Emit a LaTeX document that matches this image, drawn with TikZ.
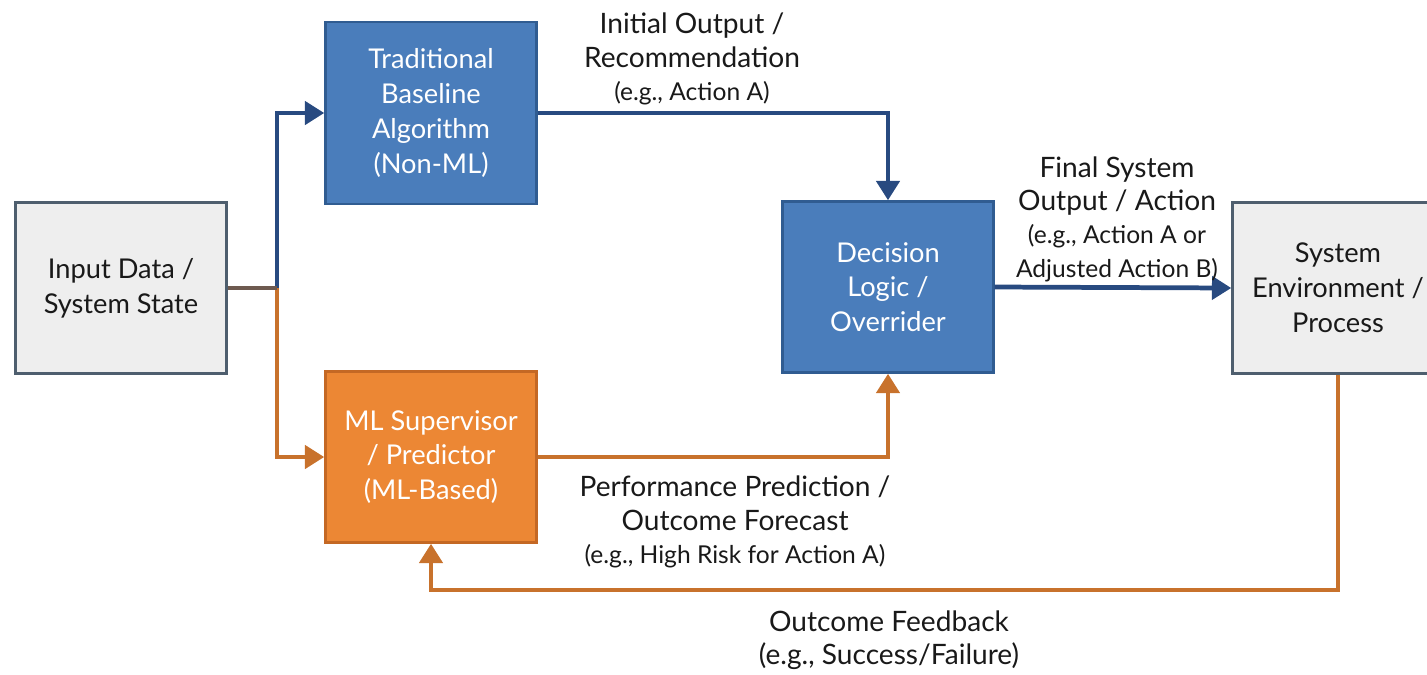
\documentclass[tikz,border=0pt]{standalone}
\usepackage{fontspec}
\setmainfont{Lato}
\usetikzlibrary{arrows.meta}
\definecolor{BoxBlue}{RGB}{74,125,187}
\definecolor{BoxBlueLine}{RGB}{48,92,145}
\definecolor{BoxOrange}{RGB}{236,135,52}
\definecolor{BoxOrangeLine}{RGB}{196,104,36}
\definecolor{BoxGray}{RGB}{238,238,238}
\definecolor{BoxGrayLine}{RGB}{78,94,110}
\definecolor{ArrBlue}{RGB}{40,74,128}
\definecolor{ArrOrange}{RGB}{200,114,44}
\definecolor{ArrMix}{RGB}{110,90,80}
\newcommand{\boxfont}{\fontsize{15.5pt}{19.8pt}\selectfont}
\newcommand{\lblfont}{\fontsize{16pt}{19pt}\selectfont}
\newcommand{\lblsmall}{\fontsize{14pt}{16.5pt}\selectfont}

\begin{document}
\begin{tikzpicture}[x=0.02cm,y=-0.02cm,
  blk/.style n args={3}{fill=#1,draw=#2,text=#3,line width=1.4pt,minimum width=4.22cm,minimum height=3.42cm,align=center,font=\boxfont,inner sep=2pt},
  lbl/.style={align=center,font=\lblfont,text=black!90,inner sep=0pt},
  bluearr/.style={ArrBlue,line width=2.7pt,-{Triangle[length=11pt,width=13pt]}},
  orarr/.style={ArrOrange,line width=2.7pt,-{Triangle[length=11pt,width=13pt]}}]
\useasboundingbox (0,0) rectangle (1427,674);
% boxes
\node[blk={BoxGray}{BoxGrayLine}{black!90}] (input) at (121,288) {Input Data /\\System State};
\node[blk={BoxBlue}{BoxBlueLine}{white},minimum height=3.64cm] (trad) at (431,113) {Traditional\\Baseline\\Algorithm\\(Non-ML)};
\node[blk={BoxOrange}{BoxOrangeLine}{white}] (ml) at (431,457) {ML Supervisor\\/ Predictor\\(ML-Based)};
\node[blk={BoxBlue}{BoxBlueLine}{white}] (dec) at (888,287) {Decision\\Logic /\\Overrider};
\node[blk={BoxGray}{BoxGrayLine}{black!90}] (env) at (1338,288) {System\\Environment /\\Process};
\coordinate (split) at (277,288);
\coordinate (fb) at (900,590);
% connectors
\draw[bluearr] (split) |- (trad.west);
\draw[orarr] (split) |- (ml.west);
\draw[ArrMix,line width=2.7pt] (input.east) -- (split);
\draw[bluearr] (trad.east) -| (dec.north);
\draw[orarr] (ml.east) -| (dec.south);
\draw[bluearr] (dec.east) -- (env.west);
\draw[orarr] (env.south) |- (fb) -| (ml.south);
% labels
\node[lbl] (initlbl) at (692,59) {Initial Output /\\Recommendation\\{\lblsmall (e.g., Action A)}};
\node[lbl] (finallbl) at (1117,219) {Final System\\Output / Action\\{\lblsmall (e.g., Action A or}\\{\lblsmall Adjusted Action B)}};
\node[lbl] (perflbl) at (735,522) {Performance Prediction /\\Outcome Forecast\\{\lblsmall (e.g., High Risk for Action A)}};
\node[lbl] (fblbl) at (889,640) {Outcome Feedback\\(e.g., Success/Failure)};
\end{tikzpicture}
\end{document}
